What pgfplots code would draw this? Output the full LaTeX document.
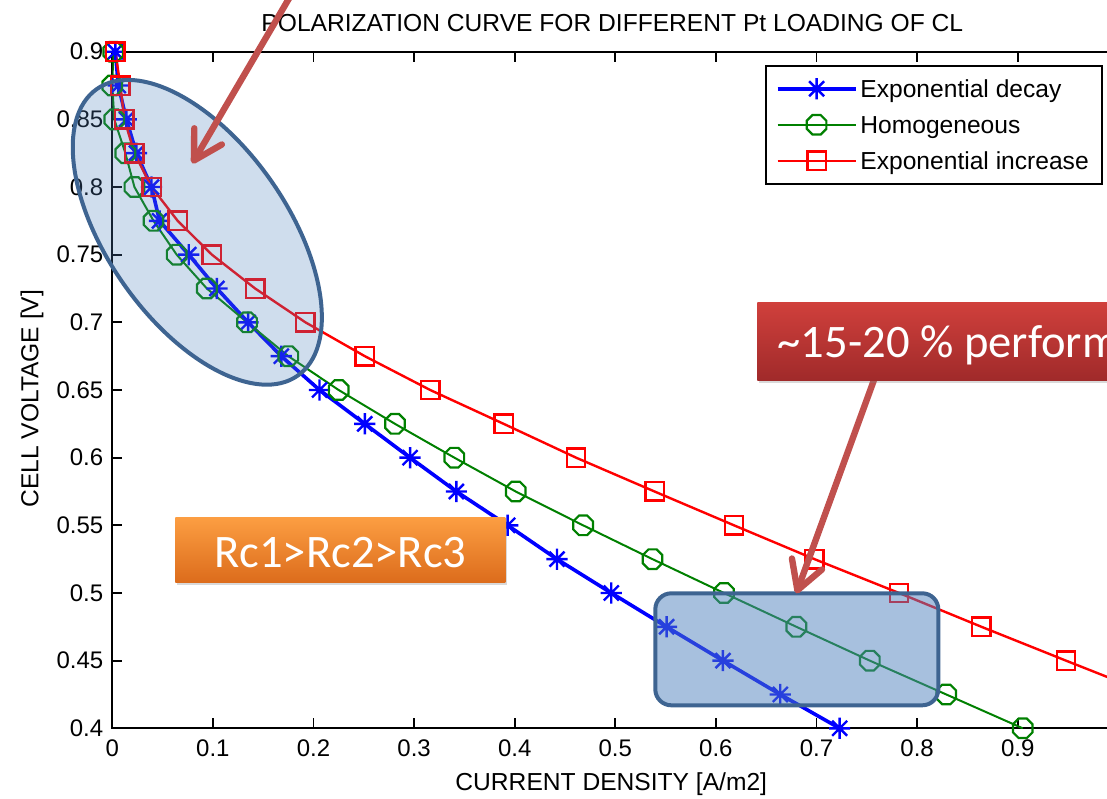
\documentclass[border=0pt]{standalone}
\usepackage{pgfplots}
\pgfplotsset{compat=1.18}
\usepackage{fontspec}
\setmainfont{Liberation Sans}
\newfontfamily\calibri{Carlito}
\usetikzlibrary{arrows.meta,shadows}

\definecolor{mblue}{RGB}{0,0,255}
\definecolor{mgreen}{RGB}{0,128,0}
\definecolor{mred}{RGB}{255,0,0}
\definecolor{acc}{RGB}{79,129,189}
\definecolor{accdark}{RGB}{62,100,145}
\definecolor{arrowred}{RGB}{192,80,77}
\definecolor{orTop}{RGB}{252,158,66}
\definecolor{orBot}{RGB}{220,108,28}
\definecolor{rdTop}{RGB}{208,64,60}
\definecolor{rdBot}{RGB}{160,42,42}

\pgfdeclareplotmark{mstar}{%
  \pgfpathmoveto{\pgfqpoint{-\pgfplotmarksize}{0pt}}\pgfpathlineto{\pgfqpoint{\pgfplotmarksize}{0pt}}%
  \pgfpathmoveto{\pgfqpoint{0pt}{-\pgfplotmarksize}}\pgfpathlineto{\pgfqpoint{0pt}{\pgfplotmarksize}}%
  \pgfpathmoveto{\pgfqpoint{-.7071\pgfplotmarksize}{-.7071\pgfplotmarksize}}\pgfpathlineto{\pgfqpoint{.7071\pgfplotmarksize}{.7071\pgfplotmarksize}}%
  \pgfpathmoveto{\pgfqpoint{-.7071\pgfplotmarksize}{.7071\pgfplotmarksize}}\pgfpathlineto{\pgfqpoint{.7071\pgfplotmarksize}{-.7071\pgfplotmarksize}}%
  \pgfusepathqstroke}
\pgfdeclareplotmark{oct}{%
  \pgfpathmoveto{\pgfpointpolar{22.5}{\pgfplotmarksize}}%
  \pgfpathlineto{\pgfpointpolar{67.5}{\pgfplotmarksize}}%
  \pgfpathlineto{\pgfpointpolar{112.5}{\pgfplotmarksize}}%
  \pgfpathlineto{\pgfpointpolar{157.5}{\pgfplotmarksize}}%
  \pgfpathlineto{\pgfpointpolar{202.5}{\pgfplotmarksize}}%
  \pgfpathlineto{\pgfpointpolar{247.5}{\pgfplotmarksize}}%
  \pgfpathlineto{\pgfpointpolar{292.5}{\pgfplotmarksize}}%
  \pgfpathlineto{\pgfpointpolar{337.5}{\pgfplotmarksize}}%
  \pgfpathclose\pgfusepathqstroke}

\begin{document}
\begin{tikzpicture}
\useasboundingbox (-56.15pt,-34.85pt) rectangle (497.35pt,364.15pt);
\clip (-56.15pt,-34.85pt) rectangle (497.35pt,364.15pt);
\begin{axis}[
  scale only axis, width=503pt, height=338.3pt,
  xmin=0, xmax=1, ymin=0.4, ymax=0.9,
  xtick={0,0.1,0.2,0.3,0.4,0.5,0.6,0.7,0.8,0.9,1},
  xticklabels={0,0.1,0.2,0.3,0.4,0.5,0.6,0.7,0.8,0.9,{}},
  ytick={0.4,0.45,0.5,0.55,0.6,0.65,0.7,0.75,0.8,0.85,0.9},
  /pgf/number format/assume math mode=true,
  tick align=inside, major tick length=5pt,
  axis line style={line width=0.9pt},
  tick style={line width=0.9pt, black},
  tick label style={font=\fontsize{12}{14}\selectfont},
  xticklabel style={yshift=-2pt},
  yticklabel style={xshift=-1pt},
  title={POLARIZATION CURVE FOR DIFFERENT Pt LOADING OF CL},
  title style={at={(axis description cs:0.497,1.0116)}, anchor=base, font=\fontsize{12.3}{14}\selectfont},
  xlabel={CURRENT DENSITY [A/m2]},
  xlabel style={at={(axis description cs:0.496,-0.0922)}, anchor=base, font=\fontsize{12.3}{14}\selectfont},
  ylabel={CELL VOLTAGE [V]},
  ylabel style={at={(axis description cs:-0.0736,0.487)}, anchor=base, font=\fontsize{12.3}{14}\selectfont},
  legend image code/.code={\draw[mark repeat=2,mark phase=2] plot coordinates {(0pt,0pt)(19.5pt,0pt)(39pt,0pt)};},
  legend cell align=left,
  legend style={at={(rel axis cs:0.6488,0.9804)}, anchor=north west, draw=black, line width=0.8pt,
    inner xsep=5pt, inner ysep=2.5pt, row sep=0pt,
    font=\fontsize{12.3}{14}\selectfont,
    nodes={inner xsep=1.5pt, inner ysep=3pt, text height=10.5pt, text depth=1.5pt}},
]
\addplot[color=mblue, line width=1.8pt, mark=mstar, mark size=5.3pt, mark options={line width=1.2pt, solid}] coordinates {
(0.003,0.9) (0.006,0.875) (0.014,0.85) (0.024,0.825) (0.039,0.8) (0.047,0.775) (0.076,0.75)
(0.104,0.725) (0.135,0.7) (0.168,0.675) (0.206,0.65) (0.251,0.625) (0.296,0.6) (0.342,0.575)
(0.393,0.55) (0.442,0.525) (0.496,0.5) (0.551,0.475) (0.607,0.45) (0.664,0.425) (0.723,0.4)};
\addlegendentry{Exponential decay}
\addplot[color=mgreen, line width=1.0pt, mark=oct, mark size=5.3pt, mark options={line width=1.1pt, solid}] coordinates {
(0.001,0.9) (0.0,0.875) (0.002,0.85) (0.013,0.825) (0.022,0.8) (0.041,0.775) (0.064,0.75)
(0.094,0.725) (0.134,0.7) (0.175,0.675) (0.225,0.65) (0.281,0.625) (0.340,0.6) (0.401,0.575)
(0.468,0.55) (0.537,0.525) (0.608,0.5) (0.680,0.475) (0.753,0.45) (0.829,0.425) (0.905,0.4)};
\addlegendentry{Homogeneous}
\addplot[color=mred, line width=1.2pt, mark=square, mark size=4.6pt, mark options={line width=1.2pt, solid}] coordinates {
(0.003,0.9) (0.008,0.875) (0.012,0.85) (0.022,0.825) (0.039,0.8) (0.065,0.775) (0.099,0.75)
(0.142,0.725) (0.192,0.7) (0.251,0.675) (0.316,0.65) (0.389,0.625) (0.461,0.6) (0.539,0.575)
(0.618,0.55) (0.698,0.525) (0.782,0.5) (0.864,0.475) (0.948,0.45) (1.033,0.425) (1.12,0.4)};
\addlegendentry{Exponential increase}
\end{axis}
% annotations (pt, origin at axis lower-left corner)
\draw[accdark, line width=2pt, fill=acc, fill opacity=0.27, rotate around={-55:(42.5pt,248pt)}]
  (42.5pt,248pt) ellipse [x radius=87.5pt, y radius=45pt];
\draw[accdark, line width=2pt, fill=acc, fill opacity=0.5, rounded corners=8pt]
  (271.5pt,11.5pt) rectangle (413pt,67.5pt);
\draw[arrowred, line width=3.2pt, -{Straight Barb[length=14pt,width=16pt,round]}]
  (92.5pt,372pt) -- (40pt,282.5pt);
\draw[arrowred, line width=3.2pt, -{Straight Barb[length=14pt,width=16pt,round]}]
  (381.5pt,176pt) -- (342pt,67.5pt);
\path[top color=orTop, bottom color=orBot, drop shadow={opacity=0.3,shadow xshift=1pt,shadow yshift=-1.5pt}]
  (31.5pt,73pt) rectangle (196.5pt,105.5pt);
\node[text=white, font=\calibri\fontsize{23.3}{28}\selectfont, anchor=base, inner sep=0pt] at (114pt,80.5pt) {Rc1>Rc2>Rc3};
\path[top color=rdTop, bottom color=rdBot, drop shadow={opacity=0.3,shadow xshift=1pt,shadow yshift=-1.5pt}]
  (322.5pt,174pt) rectangle (540pt,213pt);
\node[text=white, font=\calibri\fontsize{23.3}{28}\selectfont, anchor=base west, inner sep=0pt] at (332.5pt,185.5pt) {\textasciitilde15-20 \% performance improvement};
\end{tikzpicture}
\end{document}
